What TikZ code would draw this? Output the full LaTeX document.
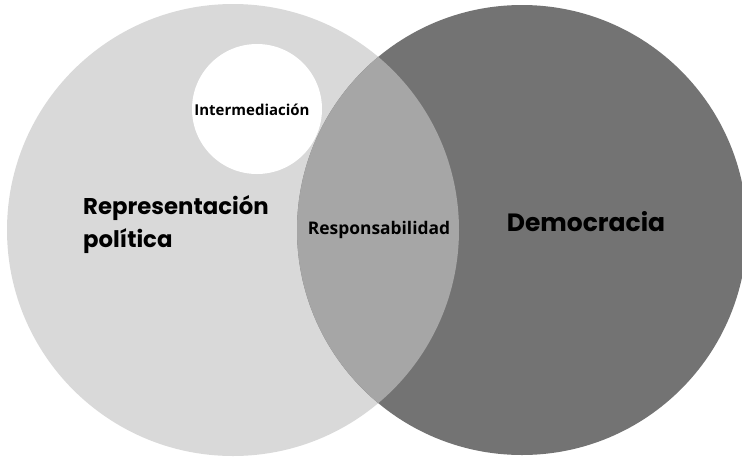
\documentclass[tikz,border=0pt]{standalone}
\usepackage{fontspec}
\setmainfont{Poppins}
\newfontfamily\opensans{Open Sans}
\definecolor{claro}{HTML}{D9D9D9}
\definecolor{medio}{HTML}{A6A6A6}
\definecolor{oscuro}{HTML}{737373}
\tikzset{big/.style = {font=\bfseries\fontsize{22.8}{33}\selectfont, inner sep=0pt, align=left},
         small/.style = {font=\opensans\bfseries\fontsize{15}{18}\selectfont, inner sep=0pt},
         dm/.style = {font=\bfseries\fontsize{25}{28}\selectfont, inner sep=0pt}}

\begin{document}
\begin{tikzpicture}[x=1pt, y=-1pt]
    \useasboundingbox (0,0) rectangle (742,459);
    \coordinate (cr) at (233,230); \coordinate (cd) at (522,230); \coordinate (ci) at (257,109);
    \fill[claro] (cr) circle[radius=226];
    \fill[oscuro] (cd) circle[radius=225];
    \begin{scope}
      \clip (cr) circle[radius=226];
      \fill[medio] (cd) circle[radius=225];
    \end{scope}
    \fill[white] (ci) circle[radius=65];
    \node[small] (inter) at (252,110) {Intermediación};
    \node[big, anchor=north west] (rep) at (83,195) {Representación\\política};
    \node[small, font=\opensans\bfseries\fontsize{17.4}{20}\selectfont] (resp) at (379,230) {Responsabilidad};
    \node[dm] (dem) at (586,222) {Democracia};
  \end{tikzpicture}
\end{document}
